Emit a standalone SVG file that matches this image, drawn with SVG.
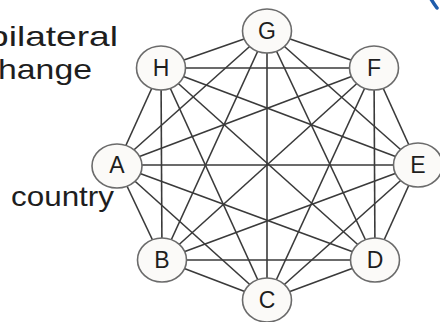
<svg xmlns="http://www.w3.org/2000/svg" width="440" height="322" viewBox="0 0 440 322">
<style>
.edge{stroke:#3a3a3a;stroke-width:1.6;fill:none}
.node ellipse{fill:#fbfaf8;stroke:#6b6b6b;stroke-width:1.6}
.node text{font-family:"Liberation Sans",Arial,sans-serif;font-size:23px;fill:#1e1e1e;text-anchor:middle}
.lbl{font-family:"Liberation Sans",Arial,sans-serif;font-size:28px;fill:#1e1e1e}
</style>
<rect width="440" height="322" fill="#ffffff"/>
<text class="lbl" x="-12" y="46" textLength="130" lengthAdjust="spacingAndGlyphs">bilateral</text>
<text class="lbl" x="-2" y="79" textLength="94" lengthAdjust="spacingAndGlyphs">hange</text>
<text class="lbl" x="11" y="206" textLength="103" lengthAdjust="spacingAndGlyphs">country</text>
<path d="M431,-1 Q434,4 437,8" stroke="#1f5cab" stroke-width="3.5" fill="none" stroke-linecap="round"/>
<g id="connectors">
<line class="edge" x1="117" y1="165" x2="162" y2="260"/>
<line class="edge" x1="117" y1="165" x2="267" y2="300"/>
<line class="edge" x1="117" y1="165" x2="375" y2="260"/>
<line class="edge" x1="117" y1="165" x2="418" y2="165"/>
<line class="edge" x1="117" y1="165" x2="374" y2="68"/>
<line class="edge" x1="117" y1="165" x2="267" y2="31"/>
<line class="edge" x1="117" y1="165" x2="161" y2="68"/>
<line class="edge" x1="162" y1="260" x2="267" y2="300"/>
<line class="edge" x1="162" y1="260" x2="375" y2="260"/>
<line class="edge" x1="162" y1="260" x2="418" y2="165"/>
<line class="edge" x1="162" y1="260" x2="374" y2="68"/>
<line class="edge" x1="162" y1="260" x2="267" y2="31"/>
<line class="edge" x1="162" y1="260" x2="161" y2="68"/>
<line class="edge" x1="267" y1="300" x2="375" y2="260"/>
<line class="edge" x1="267" y1="300" x2="418" y2="165"/>
<line class="edge" x1="267" y1="300" x2="374" y2="68"/>
<line class="edge" x1="267" y1="300" x2="267" y2="31"/>
<line class="edge" x1="267" y1="300" x2="161" y2="68"/>
<line class="edge" x1="375" y1="260" x2="418" y2="165"/>
<line class="edge" x1="375" y1="260" x2="374" y2="68"/>
<line class="edge" x1="375" y1="260" x2="267" y2="31"/>
<line class="edge" x1="375" y1="260" x2="161" y2="68"/>
<line class="edge" x1="418" y1="165" x2="374" y2="68"/>
<line class="edge" x1="418" y1="165" x2="267" y2="31"/>
<line class="edge" x1="418" y1="165" x2="161" y2="68"/>
<line class="edge" x1="374" y1="68" x2="267" y2="31"/>
<line class="edge" x1="374" y1="68" x2="161" y2="68"/>
<line class="edge" x1="267" y1="31" x2="161" y2="68"/>
</g>
<g id="node-G" class="node"><ellipse cx="267" cy="31" rx="24.5" ry="22"/><text x="267" y="39">G</text></g>
<g id="node-F" class="node"><ellipse cx="374" cy="68" rx="24.5" ry="22"/><text x="374" y="76">F</text></g>
<g id="node-E" class="node"><ellipse cx="418" cy="165" rx="24.5" ry="22"/><text x="418" y="173">E</text></g>
<g id="node-D" class="node"><ellipse cx="375" cy="260" rx="24.5" ry="22"/><text x="375" y="268">D</text></g>
<g id="node-C" class="node"><ellipse cx="267" cy="300" rx="24.5" ry="22"/><text x="267" y="308">C</text></g>
<g id="node-B" class="node"><ellipse cx="162" cy="260" rx="24.5" ry="22"/><text x="162" y="268">B</text></g>
<g id="node-A" class="node"><ellipse cx="117" cy="166" rx="25" ry="22"/><text x="117" y="173">A</text></g>
<g id="node-H" class="node"><ellipse cx="161" cy="68" rx="24.5" ry="22"/><text x="161" y="76">H</text></g>
</svg>
